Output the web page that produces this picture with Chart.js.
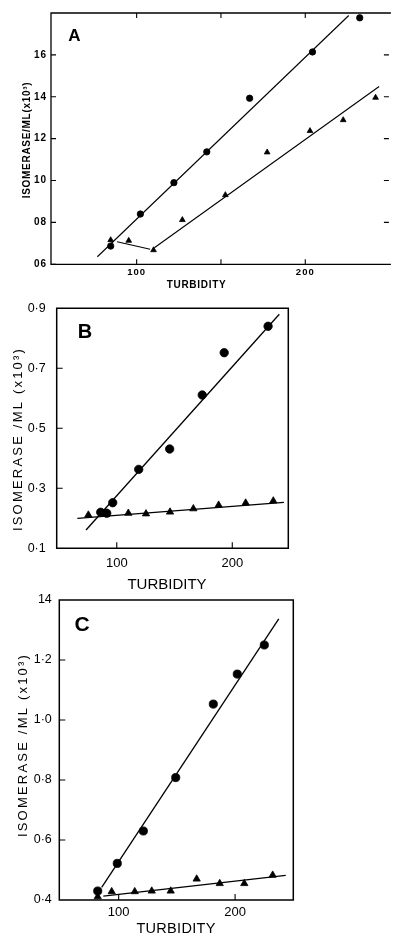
<!DOCTYPE html>
<html lang="en">
<head>
<meta charset="UTF-8">
<meta name="viewport" content="width=device-width, initial-scale=1.0">
<title>Isomerase / ML against turbidity</title>
<style>
    html, body { margin: 0; padding: 0; background: #ffffff; overflow: hidden; }
    body { width: 393px; height: 935px; position: relative; }
    canvas { position: absolute; left: 0; }
</style>
</head>
<body>

<canvas id="chartA" width="393" height="300" style="top:0px"></canvas>
<canvas id="chartB" width="393" height="304" style="top:296px"></canvas>
<canvas id="chartC" width="393" height="347" style="top:588px"></canvas>

<script src="https://cdn.jsdelivr.net/npm/chart.js@4.4.1/dist/chart.umd.min.js"></script>
<script>
// ---------- panel A ----------
var turbA_dots = [84.6, 102.2, 122.1, 141.6, 167, 204.3, 232.3];
var isoA_dots = [0.687, 0.84, 0.99, 1.137, 1.393, 1.614, 1.777];
var turbA_tri = [84.6, 95.3, 110, 127.1, 152.6, 177.4, 202.8, 222.5, 241.7];
var isoA_tri = [0.716, 0.713, 0.668, 0.812, 0.931, 1.135, 1.237, 1.289, 1.396];
var fitA_dots_x = [76.7, 225.8];
var fitA_dots_y = [0.636, 1.788];
var fitA_tri1_x = [88.4, 108];
var fitA_tri1_y = [0.708, 0.672];
var fitA_tri2_x = [110.5, 243.8];
var fitA_tri2_y = [0.679, 1.449];
var yTicksA = [0.6, 0.8, 1.0, 1.2, 1.4, 1.6];
var yLabelsA = ['06', '08', '10', '12', '14', '16'];
var yMarksRightA = [0.8, 1.0, 1.2, 1.4, 1.6];
var xMarksA = [100, 150, 200];

// ---------- panel B ----------
var turbB_dots = [86.1, 91.3, 96.5, 119, 145.8, 174, 193, 231];
var isoB_dots = [0.22, 0.217, 0.252, 0.363, 0.431, 0.611, 0.752, 0.84];
var turbB_tri = [75.4, 91, 110, 125.3, 146.1, 166.3, 188.2, 211.6, 235.5];
var isoB_tri = [0.211, 0.214, 0.217, 0.215, 0.221, 0.232, 0.244, 0.251, 0.258];
var fitB_dots_x = [73.4, 240.7];
var fitB_dots_y = [0.161, 0.88];
var fitB_tri_x = [65.9, 244.7];
var fitB_tri_y = [0.2, 0.253];
var yTicksB = [0.1, 0.3, 0.5, 0.7, 0.9];
var yLabelsB = ['0·1', '0·3', '0·5', '0·7', '0·9'];

// ---------- panel C ----------
var turbC_dots = [82, 98.8, 121.2, 149, 181.3, 201.9, 225.1];
var isoC_dots = [0.43, 0.522, 0.63, 0.808, 1.053, 1.153, 1.25];
var turbC_tri = [82, 94, 113.8, 128.4, 144.7, 167, 186.8, 207.9, 232.3];
var isoC_tri = [0.411, 0.428, 0.428, 0.43, 0.43, 0.47, 0.455, 0.455, 0.483];
var fitC_dots_x = [85.4, 237.5];
var fitC_dots_y = [0.442, 1.337];
var fitC_tri_x = [86.8, 243.5];
var fitC_tri_y = [0.413, 0.482];
var yTicksC = [0.4, 0.6, 0.8, 1.0, 1.2, 1.4];
var yLabelsC = ['0·4', '0·6', '0·8', '1·0', '1·2', '14'];

// shared x axis labels
var xTicks = [100, 200];
var xLabels = ['100', '200'];

var FONT = "'Liberation Sans', Arial, sans-serif";

function pts(xs, ys) {
    return xs.map(function (x, i) { return { x: x, y: ys[i] }; });
}

function markSet(xs, ys, style, r) {
    return {
        data: pts(xs, ys),
        showLine: false,
        pointStyle: style,
        pointRadius: r,
        pointHoverRadius: r,
        pointBackgroundColor: '#000',
        pointBorderColor: '#000',
        pointBorderWidth: 0.8,
        clip: false
    };
}

function lineSet(xs, ys, w) {
    return {
        data: pts(xs, ys),
        showLine: true,
        borderColor: '#000',
        borderWidth: w,
        pointRadius: 0,
        pointHoverRadius: 0,
        clip: false
    };
}

// frame, inward tick marks, panel letters and axis titles
var panelStyle = {
    chartA: {
        frameRight: false, frameWidth: 1.3, tickLen: 5, tickSpacing: 1.0,
        marks: { left: yTicksA, right: yMarksRightA, top: xMarksA, bottom: xMarksA },
        texts: [
            { text: 'A', x: 74.5, y: 36, rot: 0, font: 'bold 17px ' + FONT, spacing: 0 },
            { text: 'ISOMERASE/ML(x10³)', x: 27.5, y: 140, rot: -90, font: 'bold 10px ' + FONT, spacing: 0.7 },
            { text: 'TURBIDITY', x: 196.5, y: 285, rot: 0, font: 'bold 10px ' + FONT, spacing: 0.7 }
        ]
    },
    chartB: {
        frameRight: true, frameWidth: 1.5, tickLen: 6, tickSpacing: 0,
        marks: { left: [0.3, 0.5, 0.7], right: [], top: [], bottom: xTicks },
        texts: [
            { text: 'B', x: 85, y: 36.5, rot: 0, font: 'bold 20px ' + FONT, spacing: 0 },
            { text: 'ISOMERASE /ML (x10³)', x: 18.7, y: 143, rot: -90, font: '13px ' + FONT, spacing: 2.2 },
            { text: 'TURBIDITY', x: 167, y: 289, rot: 0, font: '15px ' + FONT, spacing: 0 }
        ]
    },
    chartC: {
        frameRight: true, frameWidth: 1.5, tickLen: 6, tickSpacing: 0,
        marks: { left: [0.6, 0.8, 1.0, 1.2], right: [], top: [], bottom: xTicks },
        texts: [
            { text: 'C', x: 82, y: 37, rot: 0, font: 'bold 21px ' + FONT, spacing: 0 },
            { text: 'ISOMERASE /ML (x10³)', x: 23.3, y: 157, rot: -90, font: '13px ' + FONT, spacing: 2.2 },
            { text: 'TURBIDITY', x: 176, y: 341, rot: 0, font: '14.5px ' + FONT, spacing: 0.3 }
        ]
    }
};

var figurePlugin = {
    id: 'figure',
    beforeDraw: function (chart) {
        chart.ctx.letterSpacing = '0px';
    },
    afterDatasetsDraw: function (chart) {
        // tick labels are drawn after this (ticks.z = 1)
        chart.ctx.letterSpacing = panelStyle[chart.canvas.id].tickSpacing + 'px';
    },
    afterDraw: function (chart) {
        var st = panelStyle[chart.canvas.id];
        var ctx = chart.ctx, a = chart.chartArea;
        var xs = chart.scales.x, ys = chart.scales.y;
        ctx.save();
        ctx.letterSpacing = '0px';
        ctx.strokeStyle = '#000';
        ctx.lineWidth = st.frameWidth;
        ctx.beginPath();
        if (st.frameRight) {
            ctx.rect(a.left, a.top, a.right - a.left, a.bottom - a.top);
        } else {
            ctx.moveTo(a.right + 2, a.top);
            ctx.lineTo(a.left, a.top);
            ctx.lineTo(a.left, a.bottom);
            ctx.lineTo(a.right + 2, a.bottom);
        }
        ctx.stroke();

        ctx.lineWidth = 1.1;
        ctx.beginPath();
        st.marks.left.forEach(function (v) {
            var p = ys.getPixelForValue(v);
            ctx.moveTo(a.left, p); ctx.lineTo(a.left + st.tickLen, p);
        });
        st.marks.right.forEach(function (v) {
            var p = ys.getPixelForValue(v);
            ctx.moveTo(a.right, p); ctx.lineTo(a.right - st.tickLen, p);
        });
        st.marks.top.forEach(function (v) {
            var p = xs.getPixelForValue(v);
            ctx.moveTo(p, a.top); ctx.lineTo(p, a.top + st.tickLen);
        });
        st.marks.bottom.forEach(function (v) {
            var p = xs.getPixelForValue(v);
            ctx.moveTo(p, a.bottom); ctx.lineTo(p, a.bottom - st.tickLen);
        });
        ctx.stroke();

        ctx.fillStyle = '#000';
        ctx.textAlign = 'center';
        ctx.textBaseline = 'middle';
        st.texts.forEach(function (t) {
            ctx.save();
            ctx.translate(t.x, t.y);
            ctx.rotate(t.rot * Math.PI / 180);
            ctx.font = t.font;
            ctx.letterSpacing = t.spacing + 'px';
            ctx.fillText(t.text, 0, 0);
            ctx.restore();
        });
        ctx.restore();
    }
};

function makePanel(id, p) {
    return new Chart(document.getElementById(id), {
        type: 'scatter',
        data: { datasets: p.datasets },
        plugins: [figurePlugin],
        options: {
            responsive: false,
            animation: false,
            events: [],
            layout: { padding: p.padding },
            plugins: { legend: { display: false }, tooltip: { enabled: false } },
            scales: {
                x: {
                    type: 'linear', min: p.xMin, max: p.xMax,
                    grid: { display: false, drawTicks: false },
                    border: { display: false },
                    ticks: {
                        z: 1, color: '#000', padding: p.xPad, font: p.xFont,
                        autoSkip: false, maxRotation: 0,
                        callback: function (v, i) { return xLabels[i]; }
                    },
                    afterBuildTicks: function (s) {
                        s.ticks = xTicks.map(function (v) { return { value: v }; });
                    },
                    afterFit: function (s) {
                        s.height = p.xHeight;
                        s.paddingLeft = 0; s.paddingRight = 0; s.paddingTop = 0; s.paddingBottom = 0;
                    }
                },
                y: {
                    type: 'linear', min: p.yMin, max: p.yMax,
                    grid: { display: false, drawTicks: false },
                    border: { display: false },
                    ticks: {
                        z: 1, color: '#000', padding: p.yPad, font: p.yFont,
                        autoSkip: false,
                        callback: function (v, i) { return p.yLabels[i]; }
                    },
                    afterBuildTicks: function (s) {
                        s.ticks = p.yTicks.map(function (v) { return { value: v }; });
                    },
                    afterFit: function (s) {
                        s.width = p.yWidth;
                        s.paddingLeft = 0; s.paddingRight = 0; s.paddingTop = 0; s.paddingBottom = 0;
                    }
                }
            }
        }
    });
}

// A
makePanel('chartA', {
    datasets: [
        lineSet(fitA_dots_x, fitA_dots_y, 1.1),
        lineSet(fitA_tri1_x, fitA_tri1_y, 1.1),
        lineSet(fitA_tri2_x, fitA_tri2_y, 1.1),
        markSet(turbA_dots, isoA_dots, 'circle', 3.2),
        markSet(turbA_tri, isoA_tri, 'triangle', 3.3)
    ],
    xMin: 49.2, xMax: 249.6, yMin: 0.6, yMax: 1.8,
    yTicks: yTicksA, yLabels: yLabelsA,
    padding: { left: 0, right: 0, top: 13, bottom: 0 },
    yWidth: 51, xHeight: 35.7,
    xPad: 2.7, yPad: 4,
    xFont: { family: FONT, size: 9.5, weight: 'bold' },
    yFont: { family: FONT, size: 10, weight: 'bold' }
});

// B
makePanel('chartB', {
    datasets: [
        lineSet(fitB_dots_x, fitB_dots_y, 1.3),
        lineSet(fitB_tri_x, fitB_tri_y, 1.3),
        markSet(turbB_dots, isoB_dots, 'circle', 4.2),
        markSet(turbB_tri, isoB_tri, 'triangle', 4.2)
    ],
    xMin: 48, xMax: 248.5, yMin: 0.1, yMax: 0.9,
    yTicks: yTicksB, yLabels: yLabelsB,
    padding: { left: 0, right: 104.7, top: 12.3, bottom: 0 },
    yWidth: 56.7, xHeight: 51.7,
    xPad: 6.9, yPad: 11,
    xFont: { family: FONT, size: 13 },
    yFont: { family: FONT, size: 12.5 }
});

// C
makePanel('chartC', {
    datasets: [
        lineSet(fitC_dots_x, fitC_dots_y, 1.3),
        lineSet(fitC_tri_x, fitC_tri_y, 1.3),
        markSet(turbC_dots, isoC_dots, 'circle', 4.1),
        markSet(turbC_tri, isoC_tri, 'triangle', 4.2)
    ],
    xMin: 49, xMax: 250, yMin: 0.4, yMax: 1.4,
    yTicks: yTicksC, yLabels: yLabelsC,
    padding: { left: 0, right: 99.7, top: 12, bottom: 0 },
    yWidth: 59.3, xHeight: 35,
    xPad: 4.7, yPad: 7.5,
    xFont: { family: FONT, size: 13 },
    yFont: { family: FONT, size: 12.5 }
});
</script>
</body>
</html>
